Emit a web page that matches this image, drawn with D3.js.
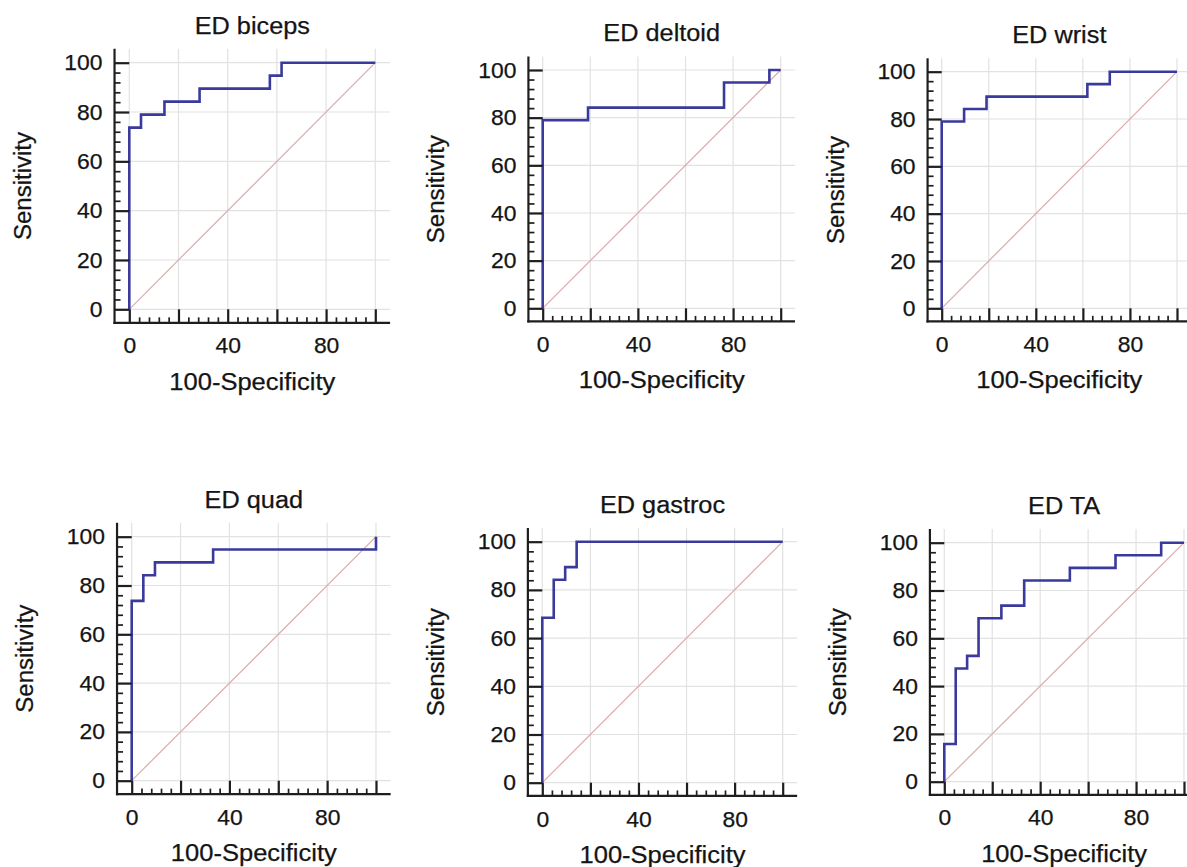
<!DOCTYPE html>
<html>
<head>
<meta charset="utf-8">
<script src="https://cdn.jsdelivr.net/npm/d3@7"></script>
<style>
    body { margin: 0; background: #fff; }
    svg { display: block; }
    text { font-family: "Liberation Sans", Arial, sans-serif; fill: #141414; stroke: #141414; stroke-width: 0.25; }
</style>
</head>
<body>
<div id="rocGrid"></div>
<script>
// ROC curves, 100-Specificity (x) against Sensitivity (y), corner points of each step
const titles = ['ED biceps', 'ED deltoid', 'ED wrist', 'ED quad', 'ED gastroc', 'ED TA'];

const bicepsFpr = [0, 0, 4.76, 14.29, 28.57, 57.14, 61.90, 100];
const bicepsTpr = [0, 73.68, 78.95, 84.21, 89.47, 94.74, 100, 100];

const deltoidFpr = [0, 0, 19.05, 76.19, 95.24, 100];
const deltoidTpr = [0, 78.95, 84.21, 94.74, 100, 100];

const wristFpr = [0, 0, 9.52, 19.05, 61.90, 71.43, 100];
const wristTpr = [0, 78.95, 84.21, 89.47, 94.74, 100, 100];

const quadFpr = [0, 0, 4.76, 9.52, 33.33, 100];
const quadTpr = [0, 73.68, 84.21, 89.47, 94.74, 100];

const gastrocFpr = [0, 0, 4.76, 9.52, 14.29, 100];
const gastrocTpr = [0, 68.42, 84.21, 89.47, 100, 100];

const taFpr = [0, 0, 4.76, 9.52, 14.29, 23.81, 33.33, 52.38, 71.43, 90.48, 100];
const taTpr = [0, 15.79, 47.37, 52.63, 68.42, 73.68, 84.21, 89.47, 94.74, 100, 100];

const majorTicks = [0, 20, 40, 60, 80, 100];
const minorTicks = [4, 8, 12, 16, 24, 28, 32, 36, 44, 48, 52, 56, 64, 68, 72, 76, 84, 88, 92, 96];
const xTickLabels = [0, 40, 80];

const fprs = [bicepsFpr, deltoidFpr, wristFpr, quadFpr, gastrocFpr, taFpr];
const tprs = [bicepsTpr, deltoidTpr, wristTpr, quadTpr, gastrocTpr, taTpr];

// pixel frame of each panel: x of 0, x of 100, y of 0, y of 100
const frames = [
    [129.3, 375.3, 309.3, 62.7],
    [542.7, 780.7, 308.3, 70],
    [941.7, 1177, 308.3, 71.7],
    [131.7, 376, 780.7, 536.7],
    [542.3, 782.7, 782.7, 541.7],
    [944.3, 1184, 781.7, 542.7]
];

const width = 1187, height = 867;
const rocColor = '#3a3a9c', diagColor = '#dcaaaa', gridColor = '#e2e2e2', axisColor = '#1e1e1e';

const svg = d3.select('#rocGrid')
    .append('svg')
    .attr('width', width)
    .attr('height', height);

// fit text to the width measured on the original (its glyphs are a little broader than Arial)
function fitWidth(sel, w) {
    sel.each(function() {
        this.setAttribute('textLength', w);
        this.setAttribute('lengthAdjust', 'spacingAndGlyphs');
    });
}
function stretch(sel, k) {
    sel.each(function() {
        const w = this.getComputedTextLength();
        if (w > 0) {
            this.setAttribute('textLength', w * k);
            this.setAttribute('lengthAdjust', 'spacingAndGlyphs');
        }
    });
}

function drawPanel(i) {
    const f = frames[i];
    const x = d3.scaleLinear().domain([0, 100]).range([f[0], f[1]]);
    const y = d3.scaleLinear().domain([0, 100]).range([f[2], f[3]]);

    const axisX = x(-6), axisY = y(-5.5);
    const top = y(105.7), right = x(106);
    const g = svg.append('g').attr('class', 'panel');

    // grid
    g.selectAll('.vgrid')
        .data(majorTicks)
        .join('line')
        .attr('class', 'vgrid')
        .attr('x1', d => x(d)).attr('x2', d => x(d))
        .attr('y1', top).attr('y2', axisY)
        .attr('stroke', gridColor).attr('stroke-width', 1.2);
    g.selectAll('.hgrid')
        .data(majorTicks)
        .join('line')
        .attr('class', 'hgrid')
        .attr('x1', axisX).attr('x2', right)
        .attr('y1', d => y(d)).attr('y2', d => y(d))
        .attr('stroke', gridColor).attr('stroke-width', 1.2);

    // reference diagonal
    g.append('line')
        .attr('x1', x(0)).attr('y1', y(0))
        .attr('x2', x(100)).attr('y2', y(100))
        .attr('stroke', diagColor).attr('stroke-width', 1.2);

    // roc curve
    const pts = fprs[i].map((v, j) => [v, tprs[i][j]]);
    const line = d3.line()
        .x(d => x(d[0]))
        .y(d => y(d[1]))
        .curve(d3.curveStepAfter);
    g.append('path')
        .datum(pts)
        .attr('d', line)
        .attr('fill', 'none')
        .attr('stroke', rocColor)
        .attr('stroke-width', 2.6);

    // y axis
    const yAxis = g.append('g').attr('transform', `translate(${axisX},0)`);
    yAxis.call(d3.axisLeft(y).tickValues(majorTicks).tickSize(-(x(0) - axisX)).tickPadding(12));
    yAxis.append('g').call(d3.axisLeft(y).tickValues(minorTicks).tickSize(-6).tickFormat(''));
    // x axis
    const xAxis = g.append('g').attr('transform', `translate(0,${axisY})`);
    xAxis.call(d3.axisBottom(x).tickValues(majorTicks).tickSize(-(axisY - y(0))).tickPadding(15)
        .tickFormat(d => xTickLabels.includes(d) ? d : ''));
    xAxis.append('g').call(d3.axisBottom(x).tickValues(minorTicks).tickSize(-5.5).tickFormat(''));

    g.selectAll('.domain').remove();
    g.selectAll('.tick line').attr('stroke', axisColor).attr('stroke-width', 2.2);
    g.selectAll('.tick line').filter(d => minorTicks.includes(d)).attr('stroke-width', 1.7);
    g.selectAll('.tick text')
        .attr('font-family', '"Liberation Sans", Arial, sans-serif')
        .attr('font-size', 22)
        .attr('fill', '#141414');

    // axis lines (the frame runs past the data range)
    g.append('line')
        .attr('x1', axisX).attr('x2', axisX)
        .attr('y1', top).attr('y2', axisY + 1.1)
        .attr('stroke', axisColor).attr('stroke-width', 2.2);
    g.append('line')
        .attr('x1', axisX - 1.1).attr('x2', right)
        .attr('y1', axisY).attr('y2', axisY)
        .attr('stroke', axisColor).attr('stroke-width', 2.2);

    // titles
    const cx = (x(0) + x(100)) / 2;
    g.append('text')
        .attr('class', 'panelTitle')
        .attr('x', cx)
        .attr('y', y(100) - 29)
        .attr('text-anchor', 'middle')
        .attr('font-size', 23)
        .text(titles[i]);
    g.append('text')
        .attr('class', 'xTitle')
        .attr('x', cx)
        .attr('y', axisY + 67)
        .attr('text-anchor', 'middle')
        .attr('font-size', 23.5)
        .text('100-Specificity');
    g.append('text')
        .attr('class', 'yTitle')
        .attr('transform', `translate(${axisX - 84},${(y(0) + y(100)) / 2}) rotate(-90)`)
        .attr('text-anchor', 'middle')
        .attr('font-size', 23.5)
        .text('Sensitivity');
}

titles.forEach((t, i) => drawPanel(i));

stretch(svg.selectAll('.tick text'), 1.04);
fitWidth(svg.selectAll('.xTitle'), 166);
fitWidth(svg.selectAll('.yTitle'), 108);
stretch(svg.selectAll('.panelTitle'), 1.1);
</script>
</body>
</html>
